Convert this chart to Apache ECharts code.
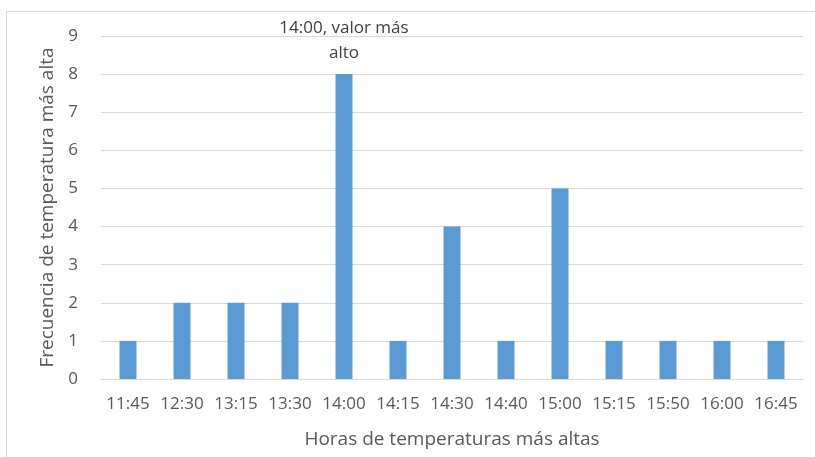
<!DOCTYPE html>
<html>
<head>
<meta charset="utf-8">
<script src="https://cdn.jsdelivr.net/npm/echarts@6/dist/echarts.min.js"></script>
<style>
  html, body { margin: 0; padding: 0; background: #fff; }
  #chart { width: 815px; height: 457px; }
</style>
</head>
<body>
<div id="chart"></div>
<script>
// Hours at which the highest temperature was recorded, and how often
const horas = ['11:45', '12:30', '13:15', '13:30', '14:00', '14:15', '14:30', '14:40', '15:00', '15:15', '15:50', '16:00', '16:45'];
const frecuencias = [1, 2, 2, 2, 8, 1, 4, 1, 5, 1, 1, 1, 1];
const etiquetaMaximo = '14:00, valor más\nalto';

const maxIdx = frecuencias.indexOf(Math.max(...frecuencias));
const textColor = '#595959';
const fontFam = '"Open Sans", sans-serif';

const chart = echarts.init(document.getElementById('chart'), null, { renderer: 'canvas' });
chart.setOption({
  backgroundColor: '#ffffff',
  animation: false,
  graphic: [{
    type: 'rect',
    shape: { x: 6.5, y: 11.5, width: 840, height: 480 },
    style: { fill: 'none', stroke: '#d9d9d9', lineWidth: 1 },
    silent: true
  }],
  grid: { left: 101, right: 12, top: 36, bottom: 78, outerBoundsMode: 'none', containLabel: false },
  xAxis: {
    type: 'category',
    data: horas,
    name: 'Horas de temperaturas más altas',
    nameLocation: 'middle',
    nameGap: 51,
    nameTextStyle: { color: textColor, fontSize: 19, fontFamily: fontFam },
    axisLine: { lineStyle: { color: '#d9d9d9' } },
    axisTick: { show: false },
    axisLabel: { color: textColor, fontSize: 17, fontFamily: fontFam, margin: 17, interval: 0 }
  },
  yAxis: {
    type: 'value',
    min: 0,
    max: 9,
    interval: 1,
    name: 'Frecuencia de temperatura más alta',
    nameLocation: 'middle',
    nameGap: 42,
    nameTextStyle: { color: textColor, fontSize: 19, fontFamily: fontFam },
    axisLine: { show: false },
    axisTick: { show: false },
    axisLabel: { color: textColor, fontSize: 17, fontFamily: fontFam, margin: 23 },
    splitLine: { lineStyle: { color: '#d9d9d9' } }
  },
  series: [{
    type: 'bar',
    data: frecuencias.map((v, i) => i === maxIdx ? {
      value: v,
      label: {
        show: true,
        position: 'top',
        distance: 8,
        formatter: etiquetaMaximo,
        color: '#404040',
        fontSize: 17,
        lineHeight: 25,
        fontFamily: fontFam
      }
    } : v),
    barWidth: 17,
    itemStyle: { color: '#5b9bd5' }
  }]
});
</script>
</body>
</html>
